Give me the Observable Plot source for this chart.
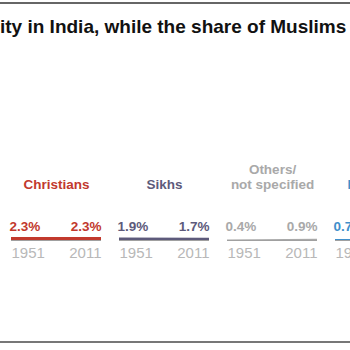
<!DOCTYPE html>
<html>
<head>
<meta charset="utf-8">
<script src="https://cdn.jsdelivr.net/npm/d3@7"></script>
<script src="https://cdn.jsdelivr.net/npm/@observablehq/plot@0.6"></script>
<style>
  html, body { margin: 0; padding: 0; background: #fff; overflow: hidden; }
  #wrap { position: relative; width: 350px; height: 350px; overflow: hidden; font-family: "Liberation Sans", Arial, sans-serif; }
  #toprule { position: absolute; left: 0; top: 2px; width: 350px; height: 2px; background: #666; }
  #bottomrule { position: absolute; left: 0; top: 341px; width: 350px; height: 2px; background: #777; }
  #title { position: absolute; left: 0; top: 17px; font-size: 19px; line-height: 19px; font-weight: bold; color: #111; white-space: nowrap; }
  #chart { position: absolute; left: 0; top: 0; }
</style>
</head>
<body>
<div id="wrap">
  <div id="chart"></div>
  <div id="toprule"></div>
  <div id="title">ity in India, while the share of Muslims</div>
  <div id="bottomrule"></div>
</div>
<script>
const religions = ["Christians", "Sikhs", "Others/\nnot specified", "Buddhists"];
const years = [1951, 2011];
const share1951 = [2.3, 1.9, 0.4, 0.7];
const share2011 = [2.3, 1.7, 0.9, 0.7];
const palette = ["#c2392d", "#5d5a7b", "#a9a9a9", "#3f8fcb"];

const rows = [];
religions.forEach((r, i) => {
  rows.push({religion: r, year: years[0], value: share1951[i]});
  rows.push({religion: r, year: years[1], value: share2011[i]});
});
const starts = rows.filter(d => d.year === years[0]);
const ends = rows.filter(d => d.year === years[1]);

const chart = Plot.plot({
  width: 350,
  height: 350,
  marginTop: 0, marginBottom: 0, marginLeft: 0, marginRight: 0,
  style: {fontFamily: "'Liberation Sans', Arial, sans-serif", background: "transparent"},
  fx: {domain: religions, range: [9, 427], paddingInner: 0.165, paddingOuter: 0, axis: null},
  x: {domain: [1951, 2011], axis: null},
  y: {domain: [0, 100], range: [240, 110], axis: null},
  color: {domain: religions, range: palette},
  marks: [
    Plot.ruleY(religions, {fx: d => d, y: () => 0, stroke: "#a0a0a0", strokeWidth: 1.2}),
    Plot.areaY(rows, {fx: "religion", x: "year", y: "value", fill: "religion", curve: "linear"}),
    Plot.text(religions, {fx: d => d, x: () => 1981, y: () => 0, text: d => d, fill: d => d,
      fontSize: 13.5, fontWeight: "bold", lineAnchor: "bottom", lineHeight: 1.05, dy: -52}),
    Plot.text(starts, {fx: "religion", x: "year", y: () => 0, text: d => d.value.toFixed(1) + "%",
      fill: "religion", fontSize: 13.5, fontWeight: "bold", textAnchor: "start", lineAnchor: "bottom", dy: -10, dx: -2}),
    Plot.text(ends, {fx: "religion", x: "year", y: () => 0, text: d => d.value.toFixed(1) + "%",
      fill: "religion", fontSize: 13.5, fontWeight: "bold", textAnchor: "end", lineAnchor: "bottom", dy: -10, dx: 0}),
    Plot.text(starts, {fx: "religion", x: "year", y: () => 0, text: d => String(d.year),
      fill: "#b8b8b8", fontSize: 15, textAnchor: "start", lineAnchor: "bottom", dy: 17, dx: 0}),
    Plot.text(ends, {fx: "religion", x: "year", y: () => 0, text: d => String(d.year),
      fill: "#b8b8b8", fontSize: 15, textAnchor: "end", lineAnchor: "bottom", dy: 17, dx: 0})
  ]
});
document.getElementById("chart").appendChild(chart);
</script>
</body>
</html>
